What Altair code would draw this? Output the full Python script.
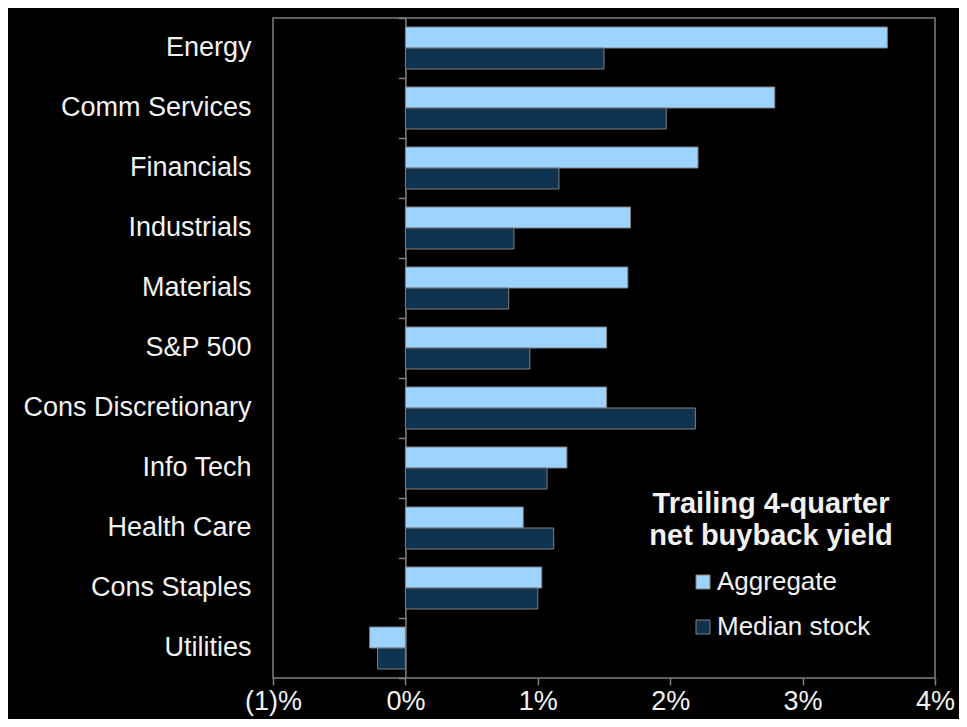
import altair as alt
import pandas as pd

categories = ["Energy", "Comm Services", "Financials", "Industrials", "Materials",
              "S&P 500", "Cons Discretionary", "Info Tech", "Health Care",
              "Cons Staples", "Utilities"]
aggregate = [3.64, 2.79, 2.21, 1.70, 1.68, 1.52, 1.52, 1.22, 0.89, 1.03, -0.27]
median_stock = [1.50, 1.97, 1.16, 0.82, 0.78, 0.94, 2.19, 1.07, 1.12, 1.00, -0.21]
series = ["Aggregate", "Median stock"]
colors = ["#9DD3FF", "#10334F"]
x_domain = [-1, 4]
x_ticks = [-1, 0, 1, 2, 3, 4]

rows = []
for c, a, m in zip(categories, aggregate, median_stock):
    rows.append({"category": c, "series": series[0], "value": a})
    rows.append({"category": c, "series": series[1], "value": m})
df = pd.DataFrame(rows)

W, H = 662, 660
FONT = "Liberation Sans"
TXT = "#F2F2F2"
GRID = "#808080"
zero_px = (0 - x_domain[0]) / (x_domain[1] - x_domain[0]) * W

base = alt.Chart(df)

xscale = alt.Scale(domain=x_domain, nice=False, zero=False)
xaxis = alt.Axis(
    title=None, values=x_ticks, grid=False, domain=False,
    ticks=True, tickSize=7, tickColor=GRID, tickWidth=1.5,
    labelFontSize=27, labelFont=FONT, labelColor=TXT, labelPadding=3,
    labelFlush=False, labelOverlap=False,
    labelExpr="datum.value < 0 ? '(' + abs(datum.value) + ')%' : datum.value + '%'",
)

bars = base.mark_bar(stroke=GRID, strokeWidth=1).encode(
    x=alt.X("value:Q", scale=xscale, axis=xaxis),
    y=alt.Y(
        "category:N", sort=categories,
        scale=alt.Scale(paddingInner=0.3, paddingOuter=0.15),
        axis=alt.Axis(title=None, ticks=False, domain=False, labelFontSize=27,
                      labelFont=FONT, labelColor=TXT, labelPadding=22, labelLimit=400),
    ),
    yOffset=alt.YOffset("series:N", sort=series),
    color=alt.Color(
        "series:N", sort=series,
        scale=alt.Scale(domain=series, range=colors),
        legend=alt.Legend(
            orient="none", legendX=376, legendY=472,
            title=["Trailing 4-quarter", "net buyback yield"],
            titleFontSize=29, titleFontWeight="bold", titleFont=FONT, titleColor=TXT,
            titleAlign="center", titleAnchor="middle", titleLimit=600, titleLineHeight=32,
            titlePadding=18,
            labelFontSize=26, labelFont=FONT, labelColor=TXT, labelOffset=1,
            symbolType="square", symbolSize=196, symbolStrokeColor=GRID,
            symbolStrokeWidth=1, symbolOpacity=1, symbolOffset=18, rowPadding=19,
        ),
    ),
)

zero_axis = base.mark_point(opacity=0).encode(
    x=alt.X("value:Q", scale=xscale, axis=xaxis),
    y=alt.Y(
        "category:N", sort=categories,
        scale=alt.Scale(paddingInner=0, paddingOuter=0),
        axis=alt.Axis(orient="left", offset=-zero_px, title=None, labels=False,
                      domain=True, domainColor=GRID, domainWidth=1.5,
                      ticks=True, tickBand="extent", tickSize=7, tickColor=GRID,
                      tickWidth=1.5, grid=False),
    ),
)

chart = (
    alt.layer(bars, zero_axis)
    .resolve_scale(y="independent")
    .resolve_axis(y="independent")
    .properties(
        width=W, height=H, background="#000000",
        autosize=alt.AutoSizeParams(type="none"),
        padding={"left": 265, "top": 10, "right": 24, "bottom": 41},
    )
    .configure_view(stroke=GRID, strokeWidth=1.5, fill="#000000")
)

chart.save("out.html", embed_options={"renderer": "svg", "actions": False})
